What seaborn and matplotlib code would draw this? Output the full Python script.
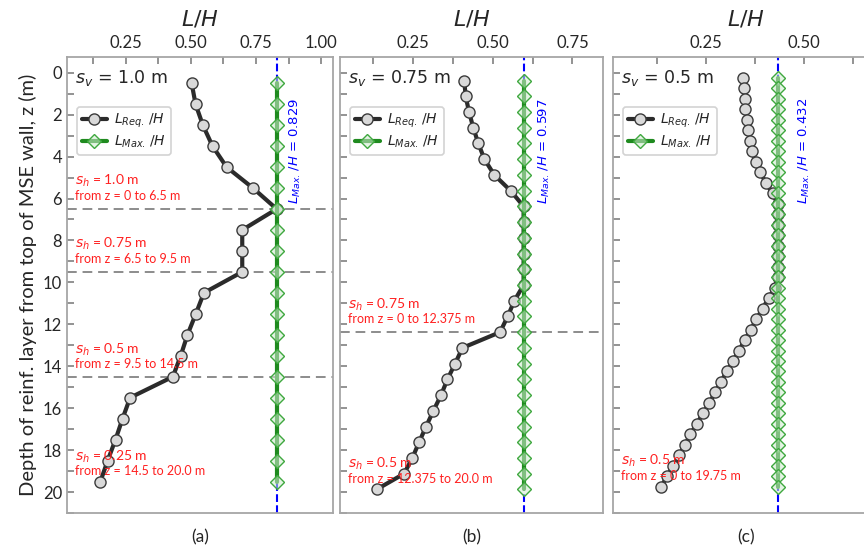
import numpy as np
import pandas as pd
import seaborn as sns
import matplotlib.pyplot as plt
from matplotlib.ticker import MultipleLocator, FormatStrFormatter

sns.set_style('ticks')
plt.rcParams['font.family'] = ['Lato', 'DejaVu Sans']
plt.rcParams['mathtext.fontset'] = 'dejavusans'

# panel (a): s_v = 1.0 m
z_a = [0.5, 1.5, 2.5, 3.5, 4.5, 5.5, 6.5, 7.5, 8.5, 9.5,
       10.5, 11.5, 12.5, 13.5, 14.5, 15.5, 16.5, 17.5, 18.5, 19.5]
lh_a = [0.503, 0.518, 0.546, 0.583, 0.637, 0.738, 0.829, 0.697, 0.697, 0.697,
        0.550, 0.519, 0.487, 0.461, 0.431, 0.267, 0.238, 0.211, 0.181, 0.153]
lmax_a = 0.829

# panel (b): s_v = 0.75 m
z_b = [0.375, 1.125, 1.875, 2.625, 3.375, 4.125, 4.875, 5.625, 6.375, 7.125,
       7.875, 8.625, 9.375, 10.125, 10.875, 11.625, 12.375, 13.125, 13.875,
       14.625, 15.375, 16.125, 16.875, 17.625, 18.375, 19.125, 19.875]
lh_b = [0.411, 0.415, 0.426, 0.439, 0.455, 0.474, 0.505, 0.556, 0.597, 0.597,
        0.597, 0.597, 0.597, 0.597, 0.568, 0.547, 0.523, 0.405, 0.382,
        0.358, 0.338, 0.314, 0.291, 0.269, 0.248, 0.222, 0.136]
lmax_b = 0.597

# panel (c): s_v = 0.5 m
z_c = [0.25, 0.75, 1.25, 1.75, 2.25, 2.75, 3.25, 3.75, 4.25, 4.75,
       5.25, 5.75, 6.25, 6.75, 7.25, 7.75, 8.25, 8.75, 9.25, 9.75,
       10.25, 10.75, 11.25, 11.75, 12.25, 12.75, 13.25, 13.75, 14.25, 14.75,
       15.25, 15.75, 16.25, 16.75, 17.25, 17.75, 18.25, 18.75, 19.25, 19.75]
lh_c = [0.345, 0.346, 0.348, 0.350, 0.353, 0.357, 0.362, 0.368, 0.376, 0.388,
        0.402, 0.419, 0.432, 0.432, 0.432, 0.432, 0.432, 0.432, 0.432, 0.432,
        0.425, 0.409, 0.394, 0.378, 0.364, 0.348, 0.334, 0.318, 0.303, 0.287,
        0.273, 0.258, 0.242, 0.226, 0.210, 0.196, 0.181, 0.166, 0.151, 0.135]
lmax_c = 0.432

sv_labels = ['1.0', '0.75', '0.5']
panel_tags = ['(a)', '(b)', '(c)']
layer_bounds = [[6.5, 9.5, 14.5], [12.375], []]
sh_notes = [
    [('1.0', '0 to 6.5', 6.15), ('0.75', '6.5 to 9.5', 9.15),
     ('0.5', '9.5 to 14.5', 14.2), ('0.25', '14.5 to 20.0', 19.3)],
    [('0.75', '0 to 12.375', 12.05), ('0.5', '12.375 to 20.0', 19.65)],
    [('0.5', '0 to 19.75', 19.5)],
]
xlims = [(0.025, 1.045), (0.021, 0.846), (0.013, 0.69)]
lbl_x = [0.90, 0.661, 0.50]

panels = [(z_a, lh_a, lmax_a), (z_b, lh_b, lmax_b), (z_c, lh_c, lmax_c)]
lefts = [67, 340, 613]
widths = [266, 263, 266]

fig = plt.figure(figsize=(8.64, 5.5), dpi=100)
grey = '#a6a6a6'

for i, (z, lh, lmax) in enumerate(panels):
    ax = fig.add_axes([lefts[i] / 864, 37 / 550, widths[i] / 864, 456 / 550])
    df = pd.DataFrame({'z': z, 'req': lh, 'max': [lmax] * len(z)})

    ax.axvline(lmax, color='blue', ls='--', lw=1.5, zorder=1)
    for b in layer_bounds[i]:
        ax.axhline(b, color='#8c8c8c', ls='--', lw=1.4, dashes=(5, 3), zorder=1)

    sns.lineplot(data=df, x='req', y='z', sort=False, estimator=None, ax=ax,
                 color='#2b2b2b', lw=3, marker='o', ms=8,
                 markerfacecolor='#d9d9d9', markeredgecolor='#3a3a3a', mew=1,
                 label=r'$L_{Req.}\,/H$', zorder=3)
    sns.lineplot(data=df, x='max', y='z', sort=False, estimator=None, ax=ax,
                 color='#1f8a1f', lw=3, marker='D', ms=7.5,
                 markerfacecolor=(0.82, 0.92, 0.82, 0.55), markeredgecolor='#3fa83f',
                 mew=1, label=r'$L_{Max.}\,/H$', zorder=4)

    ax.set_xlim(*xlims[i])
    ax.set_ylim(21.0, -0.75)
    ax.xaxis.tick_top()
    ax.xaxis.set_label_position('top')
    ax.set_xlabel('$L/H$', fontsize=16, labelpad=7)
    ax.xaxis.set_major_locator(MultipleLocator(0.25))
    ax.xaxis.set_minor_locator(MultipleLocator(0.125))
    ax.xaxis.set_major_formatter(FormatStrFormatter('%.2f'))
    ax.yaxis.set_major_locator(MultipleLocator(2))
    ax.yaxis.set_minor_locator(MultipleLocator(1))
    ax.tick_params(which='both', direction='in', color='#808080', length=5, width=1.2)
    ax.tick_params(axis='x', labelsize=12, pad=4)
    ax.tick_params(axis='y', labelsize=12)
    for s in ax.spines.values():
        s.set_color(grey)
        s.set_linewidth(1.3)

    if i == 0:
        ax.set_ylabel('Depth of reinf. layer from top of MSE wall, z (m)', fontsize=14.5)
    else:
        ax.set_ylabel('')
        ax.set_yticklabels([])

    ax.text(0.03, 0.954, r'$s_v$ = ' + sv_labels[i] + ' m', transform=ax.transAxes,
            fontsize=12.5, va='center', ha='left', family='DejaVu Sans')
    ax.text(lbl_x[i], 1.2, r'$L_{Max.}\,/H$ = %.3f' % lmax, color='blue', rotation=90,
            ha='center', va='top', fontsize=9.5, family='DejaVu Sans', zorder=5)
    for sh, rng, zb in sh_notes[i]:
        ax.text(0.03, zb, 'from z = ' + rng + ' m', transform=ax.get_yaxis_transform(),
                color='#ff2020', fontsize=9, va='bottom', ha='left', zorder=6)
        ax.text(0.03, zb - 0.6, r'$s_h$ = ' + sh + ' m', transform=ax.get_yaxis_transform(),
                color='#ff2020', fontsize=10, va='bottom', ha='left', zorder=6)

    ax.text(0.5, -0.035, panel_tags[i], transform=ax.transAxes, ha='center', va='top',
            fontsize=12.5)

    leg = ax.legend(loc='upper left', bbox_to_anchor=(0.038, 0.89), borderaxespad=0,
                    fontsize=10, handlelength=1.8, frameon=True, fancybox=True,
                    borderpad=0.35, labelspacing=0.25, handletextpad=0.5)
    leg.get_frame().set_edgecolor('#c8c8c8')
    leg.get_frame().set_linewidth(1.2)

fig.savefig('out.png', dpi=100)
